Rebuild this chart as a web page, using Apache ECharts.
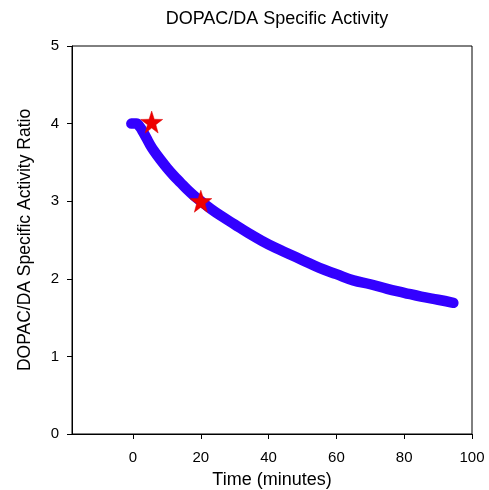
<!DOCTYPE html>
<html>
<head>
<meta charset="utf-8">
<script src="https://cdn.jsdelivr.net/npm/echarts@6/dist/echarts.min.js"></script>
<style>html,body{margin:0;padding:0;background:#fff;}#c{width:489px;height:490px;}</style>
</head>
<body>
<div id="c"></div>
<script>
var timeMin = [-0.5, 1, 2, 3, 4, 5, 6, 8, 10, 12, 14, 16, 18, 20, 23, 26, 30, 34, 38, 42, 46, 50, 55, 60, 65, 70, 75, 80, 85, 90, 94.5];
var ratio = [4.00, 4.00, 3.96, 3.89, 3.81, 3.73, 3.66, 3.54, 3.43, 3.33, 3.24, 3.15, 3.07, 3.00, 2.90, 2.81, 2.70, 2.59, 2.49, 2.40, 2.32, 2.24, 2.14, 2.06, 1.98, 1.93, 1.87, 1.82, 1.77, 1.73, 1.69];
var starTime = [5.5, 20];
var starRatio = [4.02, 3.0];
var xTicks = [0, 20, 40, 60, 80, 100];
var yTicks = [0, 1, 2, 3, 4, 5];

var curve = timeMin.map(function (t, i) { return [t, ratio[i]]; });
var stars = starTime.map(function (t, i) { return [t, starRatio[i]]; });
var starPath = 'path://M50,0 L61.8,35.4 L100,36.3 L69.1,58.8 L79.4,95.1 L50,73.5 L20.6,95.1 L30.9,58.8 L0,36.3 L38.2,35.4 Z';
var font = '"Liberation Sans", Arial, sans-serif';

var chart = echarts.init(document.getElementById('c'), null, {renderer: 'canvas'});
chart.setOption({
  animation: false,
  backgroundColor: '#fff',
  title: {
    text: 'DOPAC/DA Specific Activity',
    left: 272, top: 5, textAlign: 'center',
    textStyle: {fontFamily: font, fontSize: 18, fontWeight: 'normal', color: '#000'}
  },
  grid: {left: 72, right: 17, top: 46, bottom: 56, show: true, borderColor: '#000', borderWidth: 1, containLabel: false, outerBoundsMode: 'none'},
  xAxis: {
    type: 'value', min: -18, max: 100,
    name: 'Time (minutes)', nameLocation: 'middle', nameGap: 37,
    nameTextStyle: {fontFamily: font, fontSize: 18, color: '#000'},
    axisLine: {show: true, onZero: false, lineStyle: {color: '#000', width: 1}},
    axisTick: {show: true, inside: false, length: 5, customValues: xTicks, lineStyle: {color: '#000'}},
    axisLabel: {customValues: xTicks, margin: 16, fontFamily: font, fontSize: 15, color: '#000'},
    splitLine: {show: false}
  },
  yAxis: {
    type: 'value', min: 0, max: 5, interval: 1,
    name: 'DOPAC/DA Specific Activity Ratio', nameLocation: 'middle', nameGap: 38, nameRotate: 90,
    nameTextStyle: {fontFamily: font, fontSize: 17.5, color: '#000'},
    axisLine: {show: true, onZero: false, lineStyle: {color: '#000', width: 1}},
    axisTick: {show: true, inside: false, length: 5, lineStyle: {color: '#000'}},
    axisLabel: {margin: 13, fontFamily: font, fontSize: 15, color: '#000'},
    splitLine: {show: false}
  },
  series: [
    {
      type: 'line', data: curve, smooth: 0.4, showSymbol: false, symbol: 'none',
      lineStyle: {color: '#3300ff', width: 10.5, cap: 'round', join: 'round'},
      z: 2
    },
    {
      type: 'scatter', data: stars, symbol: starPath, symbolSize: 22,
      itemStyle: {color: '#ee0000', borderColor: '#dd0000', borderWidth: 0.5, opacity: 1},
      emphasis: {disabled: true},
      z: 3
    }
  ]
});
</script>
</body>
</html>
